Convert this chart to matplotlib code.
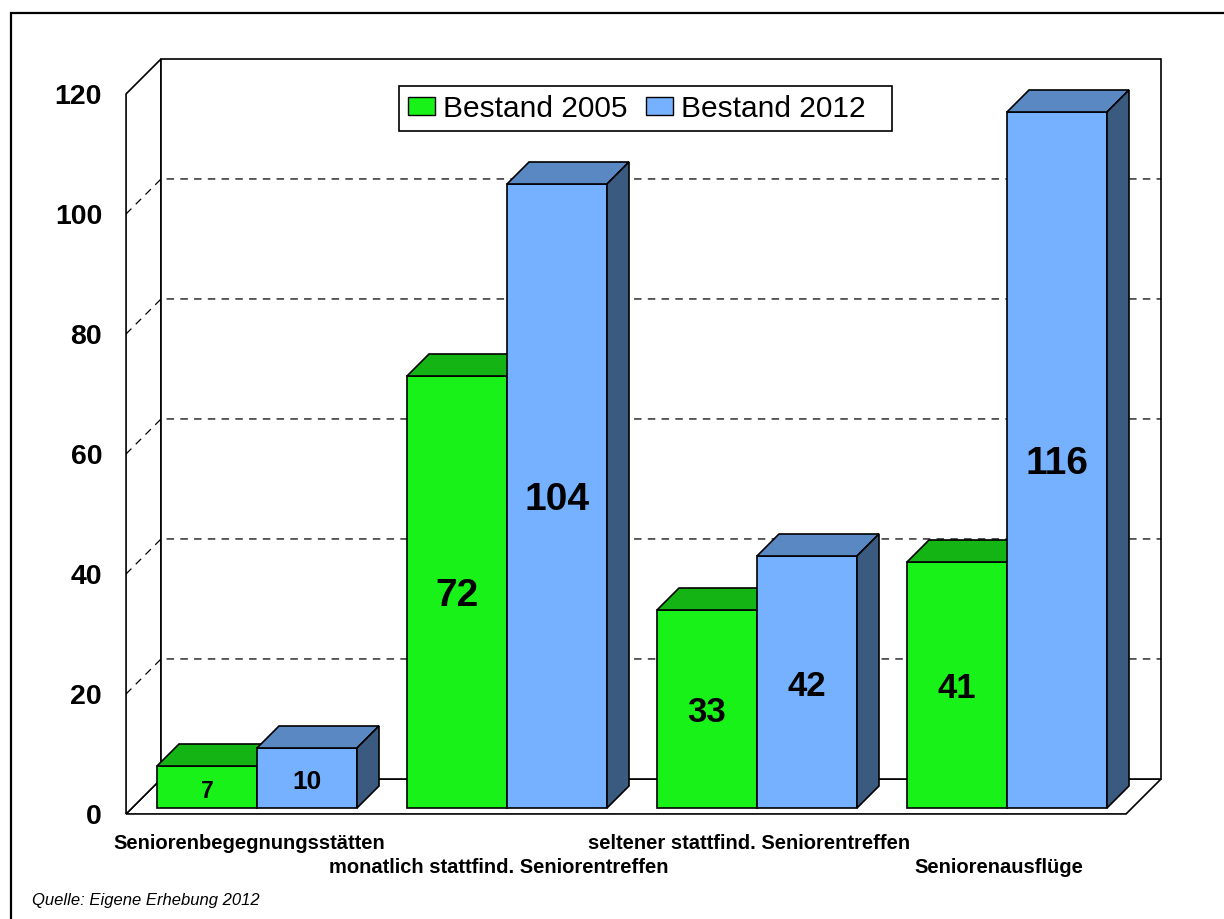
import matplotlib
matplotlib.use("Agg")
import matplotlib.pyplot as plt
from matplotlib.patches import Polygon, Patch, Rectangle

plt.rcParams['font.family'] = ['Liberation Sans', 'DejaVu Sans']

# Daten
categories = ['Seniorenbegegnungsstätten',
              'monatlich stattfind. Seniorentreffen',
              'seltener stattfind. Seniorentreffen',
              'Seniorenausflüge']
bestand_2005 = [7, 72, 33, 41]
bestand_2012 = [10, 104, 42, 116]
series_names = ['Bestand 2005', 'Bestand 2012']
y_ticks = [0, 20, 40, 60, 80, 100, 120]
source = 'Quelle: Eigene Erhebung 2012'

# Farben (Front, Deckel, Seite)
green = ('#19f219', '#14b414', '#0f8f0f')
blue = ('#75b1ff', '#5a88c2', '#3a5a80')

# Schriftgroessen der Wertelabels
label_sizes_2005 = [16.5, 28, 25, 25]
label_sizes_2012 = [19, 28, 25, 28]

# Pseudo-3D: Tiefenversatz je Einheit Balkentiefe
DX, DY = 0.088, 22 / 6
Z_FRONT, Z_BACK = -0.27, 1.32
BAR_W = 0.4
X_LEFT, X_RIGHT = -0.5, 3.5
Y_MAX = 120


def proj(x, v, z):
    return (x + z * DX, v + z * DY)


fig = plt.figure(figsize=(12.24, 9.19), dpi=100)
ax = fig.add_axes([0, 0, 1, 1])
ax.set_xlim(-257 / 250, (1224 - 257) / 250)
ax.set_ylim((808 - 919) / 6, 808 / 6)
ax.axis('off')

# Rahmen um das Diagramm
fig.patches.append(Rectangle((11 / 1224, -0.5), 1.5, 1 - 13 / 919 + 0.5,
                             transform=fig.transFigure, fill=False,
                             edgecolor='black', linewidth=1.6))


def face(pts, fc, z, lw=1.2):
    ax.add_patch(Polygon([proj(*p) for p in pts], closed=True, facecolor=fc,
                         edgecolor='black', linewidth=lw, zorder=z,
                         joinstyle='miter'))


# Boden, Seitenwand, Rueckwand
face([(X_LEFT, 0, Z_FRONT), (X_RIGHT, 0, Z_FRONT), (X_RIGHT, 0, Z_BACK),
      (X_LEFT, 0, Z_BACK)], 'white', 1)
face([(X_LEFT, 0, Z_FRONT), (X_LEFT, 0, Z_BACK), (X_LEFT, Y_MAX, Z_BACK),
      (X_LEFT, Y_MAX, Z_FRONT)], 'white', 1)
face([(X_LEFT, 0, Z_BACK), (X_RIGHT, 0, Z_BACK), (X_RIGHT, Y_MAX, Z_BACK),
      (X_LEFT, Y_MAX, Z_BACK)], 'white', 1)

# Gitterlinien
for t in y_ticks[1:-1]:
    xs, ys = zip(proj(X_LEFT, t, Z_FRONT), proj(X_LEFT, t, Z_BACK),
                 proj(X_RIGHT, t, Z_BACK))
    ax.plot(xs, ys, color='black', linewidth=0.9, dashes=(6, 5), zorder=2)

# Y-Achsenbeschriftung
for t in y_ticks:
    ax.annotate(str(t), proj(X_LEFT, t, Z_FRONT), xytext=(-24, -3),
                textcoords='offset pixels', ha='right', va='center',
                fontsize=20.5, fontweight='bold', zorder=5)


def bar3d(x0, v, cols, z):
    x1 = x0 + BAR_W
    face([(x0, 0, 0), (x1, 0, 0), (x1, v, 0), (x0, v, 0)], cols[0], z)
    face([(x0, v, 0), (x1, v, 0), (x1, v, 1), (x0, v, 1)], cols[1], z)
    face([(x1, 0, 0), (x1, 0, 1), (x1, v, 1), (x1, v, 0)], cols[2], z)


for i in range(len(categories)):
    bar3d(i - BAR_W, bestand_2005[i], green, 3 + 2 * i)
    bar3d(i, bestand_2012[i], blue, 4 + 2 * i)
    ax.annotate(str(bestand_2005[i]), (i - BAR_W / 2, bestand_2005[i] / 2),
                xytext=(0, -4), textcoords='offset pixels',
                ha='center', va='center', fontsize=label_sizes_2005[i],
                fontweight='bold', zorder=20)
    ax.annotate(str(bestand_2012[i]), (i + BAR_W / 2, bestand_2012[i] / 2),
                xytext=(0, -4), textcoords='offset pixels',
                ha='center', va='center', fontsize=label_sizes_2012[i],
                fontweight='bold', zorder=20)
    # Kategorien abwechselnd in zwei Zeilen
    off = -30 if i % 2 == 0 else -54
    ax.annotate(categories[i], proj(i, 0, Z_FRONT), xytext=(-2, off),
                textcoords='offset pixels', ha='center', va='center',
                fontsize=14.5, fontweight='bold', zorder=20)

# Legende mit eigenem Kasten
fig.patches.append(Rectangle((399 / 1224, 1 - 131 / 919), 493 / 1224,
                             45 / 919, transform=fig.transFigure,
                             facecolor='white', edgecolor='black',
                             linewidth=1.2, zorder=29))
handles = [Patch(facecolor=green[0], edgecolor='black', linewidth=1),
           Patch(facecolor=blue[0], edgecolor='black', linewidth=1)]
leg = fig.legend(handles, series_names, loc='center left',
                 bbox_to_anchor=(408 / 1224, 1 - 109 / 919), ncol=2,
                 fontsize=21.5, frameon=False,
                 handlelength=0.92, handleheight=0.55, handletextpad=0.25,
                 columnspacing=0.62, borderpad=0, borderaxespad=0)
leg.set_zorder(30)

fig.text(32 / 1224, 1 - 900 / 919, source, fontsize=12, style='italic',
         va='center')

fig.savefig('out.png', dpi=100)
